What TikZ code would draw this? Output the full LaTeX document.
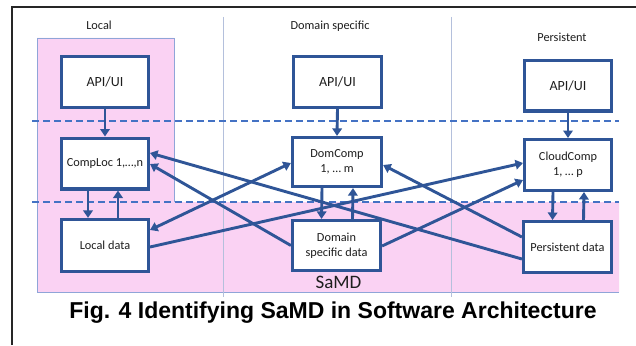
\documentclass[tikz,border=0pt]{standalone}
\usepackage{fontspec}
\setmainfont{Carlito}
\newfontfamily\capfont{Liberation Sans}
\usetikzlibrary{arrows.meta}

\definecolor{boxblue}{RGB}{47,85,151}
\definecolor{dashblue}{RGB}{68,114,196}
\definecolor{zonepink}{RGB}{250,210,243}
\definecolor{zoneedge}{RGB}{143,165,216}
\definecolor{colsep}{RGB}{180,192,220}
\definecolor{txt}{RGB}{30,30,30}

\begin{document}
\begin{tikzpicture}[x=1pt,y=-1pt,
  box/.style={draw=boxblue,line width=3.2pt,fill=white,minimum width=86.8pt,
    minimum height=50.8pt,inner sep=0pt,align=center,text=txt,
    font=\fontsize{12.3}{15}\selectfont},
  apibox/.style={box,font=\fontsize{14}{17}\selectfont},
  link/.style={draw=boxblue,line width=2.9pt,
    -{Triangle[length=7.5pt,width=9.5pt]}},
  duallink/.style={link,{Triangle[length=7.5pt,width=9.5pt]}-{Triangle[length=7.5pt,width=9.5pt]}},
  layerline/.style={dashblue,line width=1.6pt,dash pattern=on 7pt off 4pt},
  collabel/.style={anchor=base,text=txt,font=\fontsize{12.3}{15}\selectfont}]
\useasboundingbox (0,0) rectangle (636,345);
\fill[white] (0,0) rectangle (636,345);

% SaMD zone: local column plus the data layer
\fill[zonepink] (37,38) -- (174,38) -- (174,202) -- (619,202) -- (619,292)
  -- (37,292) -- cycle;
\draw[zoneedge,line width=0.8pt] (37,292) -- (37,38) -- (174,38) -- (174,202);
\draw[zoneedge,line width=0.8pt] (37,292) -- (619,292);

% column separators
\draw[colsep,line width=0.8pt] (223,17) -- (223,297);
\draw[colsep,line width=0.8pt] (451,17) -- (451,297);

% outer frame
\draw[black!85,line width=1.8pt] (12,345) -- (12,7) -- (636,7);

% layer boundaries
\draw[layerline] (32,121) -- (619,121);
\draw[layerline] (32,202) -- (619,202);

% column titles
\node[collabel] (tloc) at (99,29.5) {Local};
\node[collabel] (tdom) at (330,30) {Domain specific};
\node[collabel] (tper) at (562,41.5) {Persistent};

% boxes
\node[apibox] (la) at (105,82) {API/UI};
\node[box] (lc) at (105,163.5) {CompLoc 1,…,n};
\node[box,minimum height=52pt] (ld) at (105,245.5) {Local data};

\node[apibox,minimum width=88pt] (da) at (337.5,82) {API/UI};
\node[box,minimum width=89pt,minimum height=49pt] (dc) at (337,162) {DomComp\\1, … m};
\node[box,minimum width=88pt,minimum height=50pt] (dd) at (336.5,245.5) {Domain\\specific data};

\node[apibox] (pa) at (568,85.5) {API/UI};
\node[box] (pc) at (568,165) {CloudComp\\1, … p};
\node[box,minimum width=88pt] (pd) at (567.5,247) {Persistent data};

\node[anchor=base,text=txt,font=\fontsize{19}{22}\selectfont] (samd) at (338.5,288.5) {SaMD};

% API to component
\draw[link] (la.south) -- (lc.north);
\draw[link] (da.south) -- (dc.north);
\draw[link] (pa.south) -- (pc.north);

% component <-> own data
\draw[link] ([xshift=-17pt]lc.south) -- ([xshift=-17pt]ld.north);
\draw[link] ([xshift=13pt]ld.north) -- ([xshift=13pt]lc.south);
\draw[link] ([xshift=-15pt]dc.south) -- ([xshift=-15pt]dd.north);
\draw[link] ([xshift=16pt]dd.north) -- ([xshift=16pt]dc.south);
\draw[link] ([xshift=-15pt]pc.south) -- ([xshift=-15pt]pd.north);
\draw[link] ([xshift=16pt]pd.north) -- ([xshift=16pt]pc.south);

% cross links
\draw[link] ([yshift=-12pt]pd.west) -- ([yshift=10.5pt]lc.east);
\draw[link] ([yshift=0pt]dd.west) -- ([yshift=-0.5pt]lc.east);
\draw[duallink] ([yshift=15.5pt]ld.east) -- ([yshift=-1pt]dc.west);
\draw[link] ([yshift=-1.5pt]ld.east) -- ([yshift=2pt]pc.west);
\draw[link] ([yshift=10pt]pd.west) -- ([yshift=-3pt]dc.east);
\draw[link] ([yshift=-0.5pt]dd.east) -- ([yshift=-15pt]pc.west);

% caption
\node[anchor=base,font=\capfont\bfseries\fontsize{23}{27}\selectfont] (cap)
  at (333,318) {Fig. 4 Identifying SaMD in Software Architecture};
\end{tikzpicture}
\end{document}
